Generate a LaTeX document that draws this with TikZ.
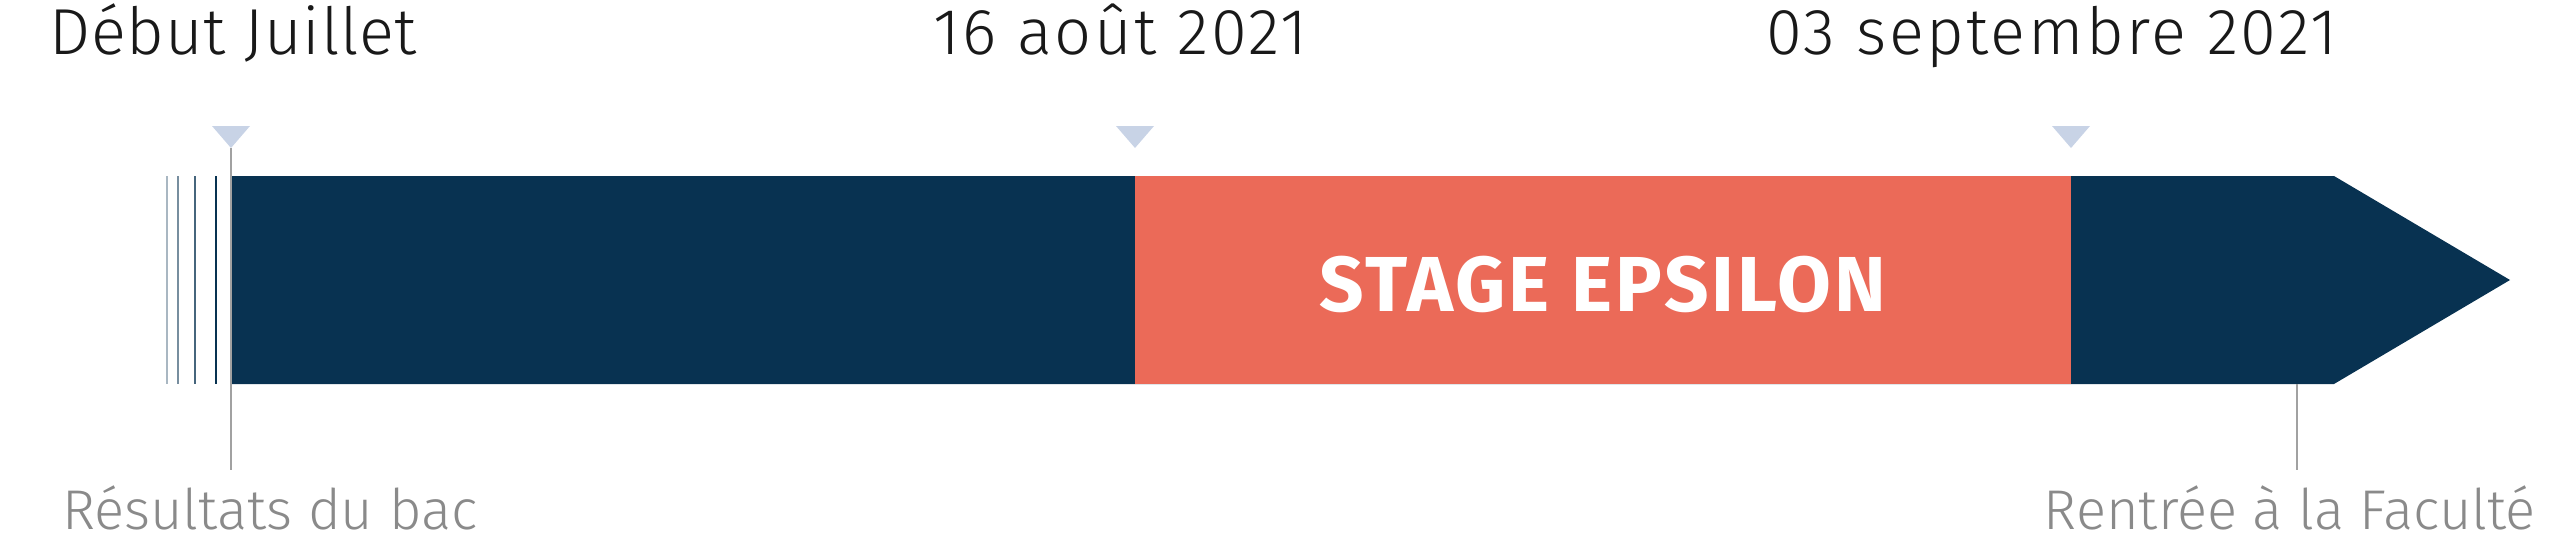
\documentclass[tikz,border=0pt]{standalone}
\usepackage{fontspec}
\setmainfont{Fira Sans Light}[BoldFont=Fira Sans Bold]
\usepackage{tikz}
\usetikzlibrary{positioning}

\definecolor{navy}{HTML}{083251}
\definecolor{coral}{HTML}{EB6A58}
\definecolor{pale}{HTML}{C8D3E6}
\definecolor{greytext}{HTML}{8A8A8A}

\begin{document}
\begin{tikzpicture}[x=1pt,y=-1pt]
\useasboundingbox (0,0) rectangle (2560,543);

%where the markers and ticks sit
\coordinate (m1) at (231,148);
\coordinate (m2) at (1135,148);
\coordinate (m3) at (2071,148);
\coordinate (t1) at (231,470);
\coordinate (r0) at (2297,384);
\coordinate (r1) at (2297,470);

%the dark bar with its pointed end
\fill[navy] (231,176) -- (2334,176) -- (2510,280) -- (2334,384) -- (231,384) -- cycle;

%the coral block with the stage name on it
\node (stage) at (1603,280) [fill=coral,minimum width=936,minimum height=208,inner sep=0pt,
      text height=62,text depth=0,
      text=white,font=\fontsize{78}{84}\selectfont\bfseries\addfontfeatures{LetterSpace=4}] {STAGE EPSILON};

%faded lines before the start of the bar
\foreach \x/\c/\w in {167/navy!35/1.2,178/navy!55/1.4,195/navy!75/1.6,216/navy/1.8}
    \draw[\c,line width=\w] (\x,176) -- (\x,384);

%small triangles over the bar
\foreach \m in {m1,m2,m3}
    \fill[pale] (\m) -- ++(-19,-22) -- ++(38,0) -- cycle;

%thin grey ticks down to the bottom labels
\begin{scope}[every path/.style={draw=greytext!80,line width=1.3}]
    \draw (m1) -- (t1);
    \draw (r0) -- (r1);
\end{scope}

%dates on top
\begin{scope}[every node/.style={inner sep=0pt,text=black!90,font=\fontsize{65}{70}\selectfont\addfontfeatures{LetterSpace=4}}]
    \node (debut) at (49,55) [anchor=base west,font=\fontsize{65}{70}\selectfont\addfontfeatures{LetterSpace=1.2}] {Début Juillet};
    \node (aout) at (933,55) [anchor=base west] {16 août 2021};
    \node (sept) at (1766,55) [anchor=base west] {03 septembre 2021};
\end{scope}

%grey labels at the bottom
\begin{scope}[every node/.style={inner sep=0pt,text=greytext,font=\fontsize{56}{62}\selectfont}]
    \node (bac) at (62,529) [anchor=base west] {Résultats du bac};
    \node (fac) at (2536,529) [anchor=base east] {Rentrée à la Faculté};
\end{scope}
\end{tikzpicture}
\end{document}
